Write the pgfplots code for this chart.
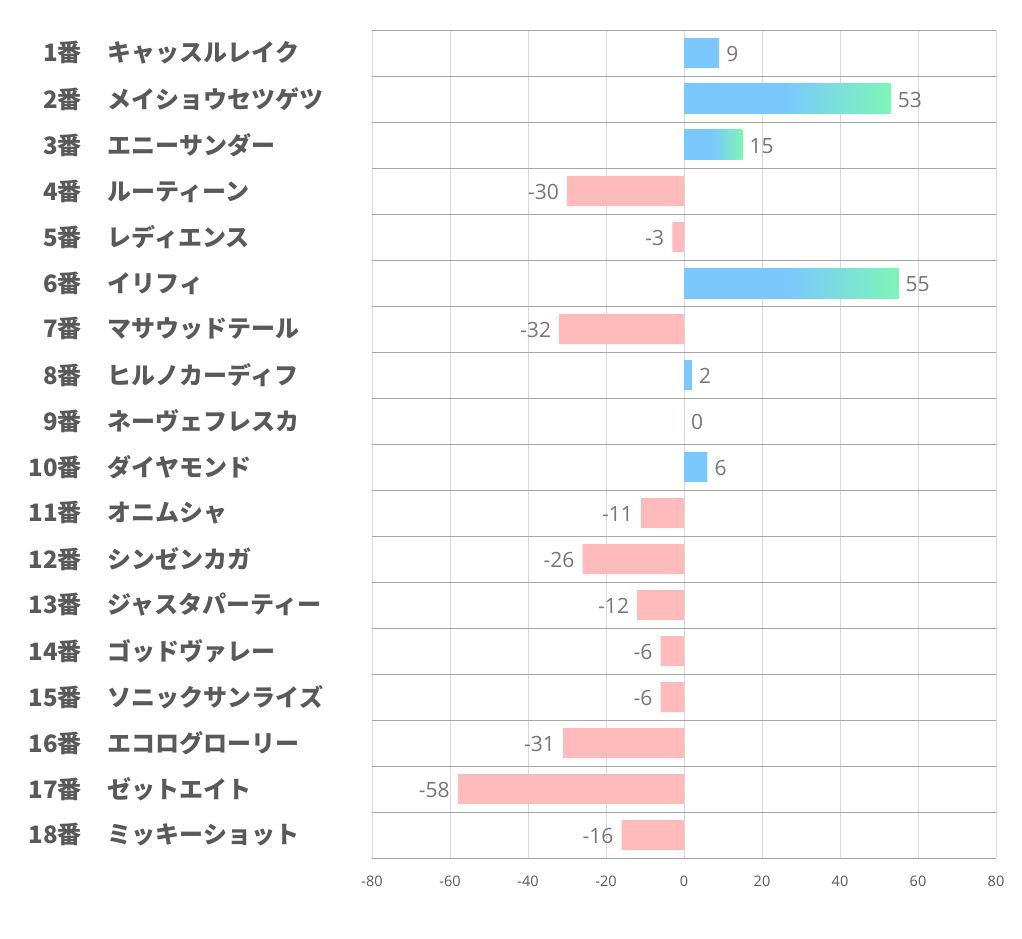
\documentclass[border=0pt]{standalone}
\usepackage{pgfplots}
\pgfplotsset{compat=1.18}
\usepackage{fontspec}
\setmainfont{Open Sans}
\newfontfamily\jp{Noto Sans CJK JP}
\definecolor{barblue}{RGB}{122,200,255}
\definecolor{bargreen}{RGB}{125,245,182}
\definecolor{barpink}{RGB}{255,187,187}
\definecolor{gridh}{RGB}{166,166,166}
\definecolor{gridv}{RGB}{217,217,217}
\definecolor{labtext}{RGB}{89,89,89}
\definecolor{valtext}{RGB}{118,118,118}
\pgfdeclarehorizontalshading{barshade}{100bp}{color(0bp)=(barblue); color(25bp)=(barblue); color(49bp)=(barblue); color(75bp)=(bargreen); color(100bp)=(bargreen)}
\newcommand\lab[2]{\makebox[60pt][r]{#1番}\hspace{26pt}\makebox[264pt][l]{#2}}
\begin{document}
\begin{tikzpicture}[x=1pt,y=1pt]
\path[use as bounding box] (0,0) rectangle (1022,939);
\begin{axis}[
  at={(684pt,495pt)}, anchor=center,
  scale only axis, width=624pt, height=828pt,
  xmin=-80, xmax=80, ymin=0.5, ymax=18.5,
  y dir=reverse,
  axis line style={draw=none},
  major tick length=0pt, minor tick length=0pt,
  xtick={-80,-60,-40,-20,0,20,40,60,80},
  xticklabels={-80,-60,-40,-20,0,20,40,60,80},
  xticklabel style={font=\fontsize{14.5}{16}\selectfont, text=labtext, inner sep=0pt, yshift=-18pt},
  xmajorgrids,
  major grid style={draw=gridv, line width=0.8pt},
  ytick={1,...,18},
  yticklabels={
    {\lab{1}{キャッスルレイク}},
    {\lab{2}{メイショウセツゲツ}},
    {\lab{3}{エニーサンダー}},
    {\lab{4}{ルーティーン}},
    {\lab{5}{レディエンス}},
    {\lab{6}{イリフィ}},
    {\lab{7}{マサウッドテール}},
    {\lab{8}{ヒルノカーディフ}},
    {\lab{9}{ネーヴェフレスカ}},
    {\lab{10}{ダイヤモンド}},
    {\lab{11}{オニムシャ}},
    {\lab{12}{シンゼンカガ}},
    {\lab{13}{ジャスタパーティー}},
    {\lab{14}{ゴッドヴァレー}},
    {\lab{15}{ソニックサンライズ}},
    {\lab{16}{エコログローリー}},
    {\lab{17}{ゼットエイト}},
    {\lab{18}{ミッキーショット}}},
  yticklabel style={font=\jp\bfseries\fontsize{24}{28}\selectfont, text=labtext, inner sep=0pt, anchor=east, yshift=0pt},
  minor ytick={0.5,1.5,...,18.5},
  yminorgrids,
  minor grid style={draw=gridh, line width=0.8pt},
  xbar, bar width=30pt, bar shift=0pt,
  point meta=explicit symbolic,
  nodes near coords,
  every node near coord/.append style={font=\fontsize{21}{24}\selectfont, text=valtext},
  pos/.style={nodes near coords style={anchor=west, inner sep=0pt, xshift=7pt, yshift=-1pt}},
  neg/.style={nodes near coords style={anchor=east, inner sep=0pt, xshift=-8pt, yshift=-1pt}},
]
\addplot[xbar, fill=barblue, draw=none, pos]
  coordinates {(9,1) [9] (2,8) [2] (0,9) [0] (6,10) [6]};
\addplot[xbar, shading=barshade, draw=none, pos]
  coordinates {(53,2) [53]};
\addplot[xbar, shading=barshade, draw=none, pos]
  coordinates {(15,3) [15]};
\addplot[xbar, shading=barshade, draw=none, pos]
  coordinates {(55,6) [55]};
\addplot[xbar, fill=barpink, draw=none, neg]
  coordinates {(-30,4) [-30] (-3,5) [-3] (-32,7) [-32] (-11,11) [-11] (-26,12) [-26]
               (-12,13) [-12] (-6,14) [-6] (-6,15) [-6] (-31,16) [-31] (-58,17) [-58] (-16,18) [-16]};
\end{axis}
\end{tikzpicture}
\end{document}
